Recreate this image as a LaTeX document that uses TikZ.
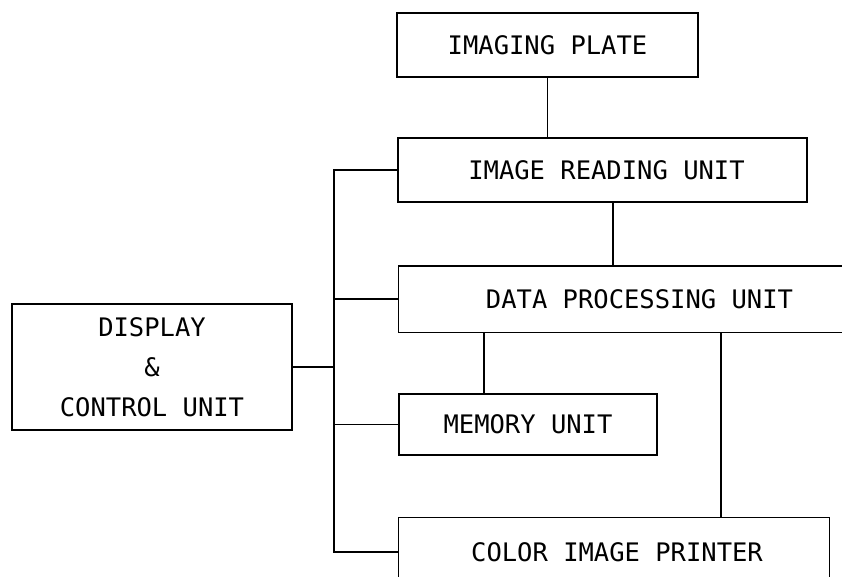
\documentclass[tikz,border=0pt]{standalone}
\usepackage{fontspec}
\newfontfamily\boxfont{DejaVu Sans Mono}
\begin{document}
\begin{tikzpicture}[x=1pt,y=-1pt,
  every path/.style={line width=1.1pt},
  unitbox/.style={draw, line width=1.1pt, inner sep=0pt, font=\boxfont\fontsize{25.5}{40}\selectfont},
  openbox/.style={draw=none, inner sep=0pt, font=\boxfont\fontsize{25.5}{40}\selectfont},
  link/.style={draw, line width=1.1pt}]
\useasboundingbox (0,0) rectangle (842,577);
\coordinate (bot) at (0,577);
\coordinate (bus) at (334,0);
\coordinate (xa) at (613,0);
\coordinate (xb) at (484,0);
\coordinate (xc) at (721,0);

\node[unitbox, minimum width=301pt, minimum height=64pt] (ip) at (547.5,45) {IMAGING PLATE};
\node[unitbox, minimum width=409pt, minimum height=64pt] (iru) at (602.5,170) {\hspace*{8pt}IMAGE READING UNIT};
\node[openbox, minimum width=443pt, minimum height=65pt] (dpu) at (620.5,299) {\hspace*{38pt}DATA PROCESSING UNIT};
\node[unitbox, minimum width=258pt, minimum height=61pt] (mem) at (528,424.5) {MEMORY UNIT};
\node[openbox, minimum width=430pt, minimum height=68pt] (prt) at (614,552) {\hspace*{6pt}COLOR IMAGE PRINTER};
\node[unitbox, minimum width=280pt, minimum height=126pt, align=center] (dcu) at (152,367) {DISPLAY\\\&\\CONTROL UNIT};

% open outlines
\draw (dpu.north east) -- (dpu.north west) -- (dpu.south west) -- (dpu.south east);
\draw (prt.north west |- bot) -- (prt.north west) -- (prt.north east) -- (prt.north east |- bot);

% bus
\draw[link] (iru.west) -- (iru.west -| bus) |- (prt.west);
\draw[link] (dpu.west) -- (dpu.west -| bus);
\draw[link] (mem.west) -- (mem.west -| bus);
\draw[link] (dcu.east) -- (dcu.east -| bus);

% verticals
\draw[link] (ip.south) -- (ip.south |- iru.north);
\draw[link] (iru.south -| xa) -- (dpu.north -| xa);
\draw[link] (dpu.south -| xb) -- (mem.north -| xb);
\draw[link] (dpu.south -| xc) -- (prt.north -| xc);
\end{tikzpicture}
\end{document}
